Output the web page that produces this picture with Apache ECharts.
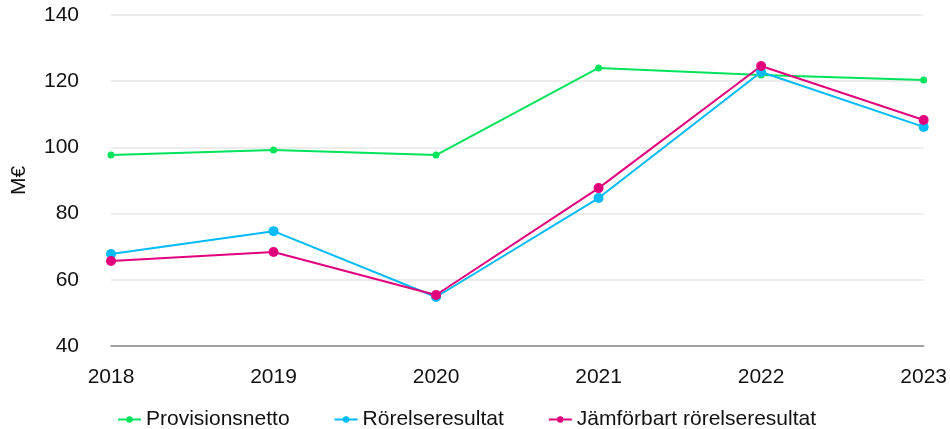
<!DOCTYPE html>
<html>
<head>
<meta charset="utf-8">
<script src="https://cdn.jsdelivr.net/npm/echarts@6/dist/echarts.min.js"></script>
<style>
  html, body { margin: 0; padding: 0; background: #fff; }
  #chart { width: 950px; height: 429px; }
</style>
</head>
<body>
<div id="chart"></div>
<script>
// data
const years = ["2018", "2019", "2020", "2021", "2022", "2023"];
const provisionsnetto = [97.7, 99.2, 97.7, 124.0, 121.9, 120.4];
const rorelseresultat = [67.8, 74.7, 54.8, 84.7, 122.8, 106.2];
const jamforbart = [65.7, 68.4, 55.4, 87.7, 124.6, 108.3];

const font = "Liberation Sans, Arial, sans-serif";

function line(name, data, color, size) {
  return {
    name: name,
    type: "line",
    data: data,
    symbol: "circle",
    symbolSize: size,
    lineStyle: { width: 2, color: color },
    itemStyle: { color: color },
  };
}

let chart = echarts.init(document.getElementById("chart"));
chart.setOption({
  animation: false,
  textStyle: { fontFamily: font },
  grid: { left: 111, right: 23, top: 15, bottom: 83 },
  legend: {
    top: 404,
    left: 112,
    itemGap: 44,
    itemWidth: 23,
    itemHeight: 8,
    textStyle: { fontSize: 21, color: "#111", fontFamily: font },
    data: ["Provisionsnetto", "Rörelseresultat", "Jämförbart rörelseresultat"],
  },
  xAxis: {
    type: "category",
    boundaryGap: false,
    data: years,
    axisTick: { show: false },
    axisLine: { lineStyle: { color: "#888", width: 1.5 } },
    axisLabel: { fontSize: 21, color: "#111", margin: 21 },
  },
  yAxis: {
    type: "value",
    min: 40,
    max: 140,
    interval: 20,
    name: "M€",
    nameLocation: "middle",
    nameGap: 81,
    nameTextStyle: { fontSize: 21, color: "#111" },
    axisLabel: { fontSize: 21, color: "#111", margin: 32 },
    splitLine: { lineStyle: { color: "#e6e6e6", width: 1.5 } },
  },
  series: [
    line("Provisionsnetto", provisionsnetto, "#00e35c", 7),
    line("Rörelseresultat", rorelseresultat, "#00bbf7", 10),
    line("Jämförbart rörelseresultat", jamforbart, "#e2007d", 10),
  ],
});
</script>
</body>
</html>
